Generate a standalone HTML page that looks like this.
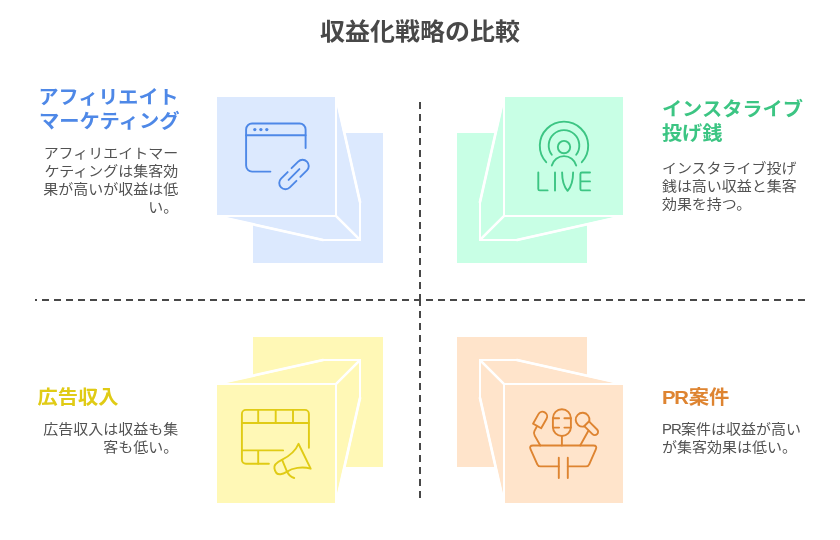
<!DOCTYPE html>
<html lang="ja">
<head>
<meta charset="utf-8">
<title>収益化戦略の比較</title>
<style>
html,body{margin:0;padding:0;background:#ffffff;}
body{width:840px;height:540px;overflow:hidden;}
svg{display:block;will-change:transform;}
text{font-family:"Liberation Sans", "Noto Sans CJK JP", sans-serif;}
</style>
</head>
<body>
<svg width="840" height="540" viewBox="0 0 840 540">
<rect x="0" y="0" width="840" height="540" fill="#ffffff"/>
<g fill="#dce9fe" stroke="#ffffff" stroke-width="2" stroke-linejoin="bevel"><polygon points="252,132 384,132 384,264 252,264"/><polygon points="336,96 360,202 360,240 336,216"/><polygon points="216,216 336,216 360,240 323,240"/><polygon points="216,96 336,96 336,216 216,216"/><path fill="none" stroke-width="2.7" stroke-linecap="round" d="M336,96 L360,202 M216,216 L323,240"/><path fill="none" stroke-width="2.4" stroke-linecap="butt" d="M336,216 L359.2,239.2"/><path fill="none" stroke-linejoin="miter" d="M360,202 L360,240 L323,240"/></g>
<g fill="#c8ffe5" stroke="#ffffff" stroke-width="2" stroke-linejoin="bevel"><polygon points="588,132 456,132 456,264 588,264"/><polygon points="504,96 480,202 480,240 504,216"/><polygon points="624,216 504,216 480,240 517,240"/><polygon points="624,96 504,96 504,216 624,216"/><path fill="none" stroke-width="2.7" stroke-linecap="round" d="M504,96 L480,202 M624,216 L517,240"/><path fill="none" stroke-width="2.4" stroke-linecap="butt" d="M504,216 L480.8,239.2"/><path fill="none" stroke-linejoin="miter" d="M480,202 L480,240 L517,240"/></g>
<g fill="#fff8b6" stroke="#ffffff" stroke-width="2" stroke-linejoin="bevel"><polygon points="252,468 384,468 384,336 252,336"/><polygon points="336,504 360,398 360,360 336,384"/><polygon points="216,384 336,384 360,360 323,360"/><polygon points="216,504 336,504 336,384 216,384"/><path fill="none" stroke-width="2.7" stroke-linecap="round" d="M336,504 L360,398 M216,384 L323,360"/><path fill="none" stroke-width="2.4" stroke-linecap="butt" d="M336,384 L359.2,360.8"/><path fill="none" stroke-linejoin="miter" d="M360,398 L360,360 L323,360"/></g>
<g fill="#ffe4cb" stroke="#ffffff" stroke-width="2" stroke-linejoin="bevel"><polygon points="588,468 456,468 456,336 588,336"/><polygon points="504,504 480,398 480,360 504,384"/><polygon points="624,384 504,384 480,360 517,360"/><polygon points="624,504 504,504 504,384 624,384"/><path fill="none" stroke-width="2.7" stroke-linecap="round" d="M504,504 L480,398 M624,384 L517,360"/><path fill="none" stroke-width="2.4" stroke-linecap="butt" d="M504,384 L480.8,360.8"/><path fill="none" stroke-linejoin="miter" d="M480,398 L480,360 L517,360"/></g>
<g stroke="#484848" stroke-width="2" fill="none" stroke-dasharray="7 5"><path d="M420,301 L420,102"/><path d="M420,299 L420,498"/><path d="M35,300 L805,300" stroke-dashoffset="5"/></g>
<g fill="none" stroke="#4e88e7" stroke-width="1.9" stroke-linecap="round" stroke-linejoin="round">
<path d="M305.6,148 V129.5 a6,6 0 0 0 -6,-6 H252.1 a6,6 0 0 0 -6,6 V165.6 a6,6 0 0 0 6,6 H270.4"/>
<path d="M246.1,135.3 H305.6"/>
<g transform="translate(294,174.5) rotate(-45)">
<path d="M2.75,-6.2 L12.1,-6.2 A6.2,6.2 0 0 1 12.1,6.2 L2.75,6.2"/>
<path d="M-2.75,6.2 L-12.1,6.2 A6.2,6.2 0 0 1 -12.1,-6.2 L-2.75,-6.2"/>
<path d="M-7.6,0 L7.6,0"/>
</g>
</g>
<g fill="#4e88e7"><circle cx="254.8" cy="129.6" r="1.65"/><circle cx="260.9" cy="129.6" r="1.65"/><circle cx="266.8" cy="129.6" r="1.65"/></g>
<g fill="none" stroke="#3cc583" stroke-width="1.9" stroke-linecap="round" stroke-linejoin="round">
<g transform="translate(0,0.4)">
<path d="M546.2,161.8 A24.2,24.2 0 1 1 581.8,161.8"/>
<path d="M551.8,154.3 A15.3,15.3 0 1 1 576.2,154.3"/>
<circle cx="564" cy="146.7" r="6.2"/>
<path d="M551.8,165.2 A12.6,12.6 0 0 1 576.2,165.2"/>
</g>
<path d="M538.3,172.4 V188.9 Q538.3,190.4 539.8,190.4 H547.6"/>
<path d="M555,172.4 V190.5"/>
<path d="M562.1,172.4 C562.1,180 563.5,186 567.6,190.8 C571.7,186 573.1,180 573.1,172.4"/>
<path d="M590,172.5 H581.9 Q580.4,172.5 580.4,174 V188.9 Q580.4,190.4 581.9,190.4 H590 M580.4,181.4 H590"/>
</g>
<g fill="none" stroke="#e0cb15" stroke-width="1.9" stroke-linecap="round" stroke-linejoin="round">
<path d="M308.9,447.7 V413.9 a4,4 0 0 0 -4,-4 H245.9 a4,4 0 0 0 -4,4 V459.7 a4,4 0 0 0 4,4 H268.9"/>
<path d="M241.9,423 H308.9 M241.9,450.4 H283.1 M258.2,410 V423 M275.7,410 V423 M293,410 V423 M258.2,450.4 V463.7"/>
<path d="M298.49,443.78 C295.56,451.33 290.22,455.78 281.33,460.22 C276.89,462.44 273.78,464.67 274.40,468.22 C275.11,472.67 277.78,474.44 280.44,474.27 C283.11,474.00 285.33,472.67 287.11,471.60 C292.00,468.22 301.78,466.00 310.67,468.67 Z"/>
<path d="M282.22,460.22 L287.11,471.78 C288.89,475.33 291.11,477.11 294.22,478.00"/>
</g>
<g fill="none" stroke="#de8431" stroke-width="1.9" stroke-linecap="round" stroke-linejoin="round">
<rect x="552.9" y="409.3" width="18" height="26.7" rx="9" ry="9"/>
<path d="M552.9,418.2 H559.1 M564.4,418.2 H570.9 M552.9,427.6 H559.1 M564.4,427.6 H570.9 M561.9,436 V445.5"/>
<g transform="translate(542.5,416.4) rotate(29.4)"><path d="M-4.65,11 L-4.65,0 A4.65,4.65 0 0 1 4.65,0 L4.65,11 Z"/></g>
<path d="M536.9,426.4 L534.4,431.1 Q533.3,433.3 534.7,435.6 L540.3,445.5"/>
<g transform="translate(582.6,419.7) rotate(45)"><path d="M5.7,-3.9 A6.9,6.9 0 1 0 5.7,3.9 Z"/><path d="M5.7,-3.3 L17.2,-3.3 A3.3,3.3 0 0 1 17.2,3.3 L5.7,3.3"/></g>
<path d="M588.4,430.7 L580.2,445.5"/>
<path d="M558.8,466.4 H540.6 Q538.2,466.4 537.3,464.3 L530.6,449.3 Q528.9,445.5 533,445.5 H593.4 Q597.5,445.5 595.8,449.3 L589.2,464.3 Q588.3,466.4 585.9,466.4 H567.8"/>
<path d="M558.8,457.7 V478 M567.8,457.7 V478"/>
</g>
<g>
<text transform="translate(420,40.42) scale(1.0,0.95)" font-size="25" fill="#484848" font-weight="700" text-anchor="middle">収益化戦略の比較</text>
<text transform="translate(38.4,103.72) scale(1.005,0.95)" font-size="20" fill="#4e88e7" font-weight="700" text-anchor="start">アフィリエイト</text>
<text transform="translate(39.0,127.82) scale(1.016,0.95)" font-size="20" fill="#4e88e7" font-weight="700" text-anchor="start">マーケティング</text>
<text transform="translate(178.2,158.2) scale(1.0,0.93)" font-size="15" fill="#525252" font-weight="400" text-anchor="end">アフィリエイトマー</text>
<text transform="translate(178.2,176.1) scale(1.0,0.93)" font-size="15" fill="#525252" font-weight="400" text-anchor="end">ケティングは集客効</text>
<text transform="translate(178.2,194.0) scale(1.0,0.93)" font-size="15" fill="#525252" font-weight="400" text-anchor="end">果が高いが収益は低</text>
<text transform="translate(178.2,211.9) scale(1.0,0.93)" font-size="15" fill="#525252" font-weight="400" text-anchor="end">い。</text>
<text transform="translate(661.9,116.12) scale(1.012,0.95)" font-size="20" fill="#3cc583" font-weight="700" text-anchor="start">インスタライブ</text>
<text transform="translate(661.9,140.12) scale(1.012,0.95)" font-size="20" fill="#3cc583" font-weight="700" text-anchor="start">投げ銭</text>
<text transform="translate(661.9,172.7) scale(1.0,0.93)" font-size="15" fill="#525252" font-weight="400" text-anchor="start">インスタライブ投げ</text>
<text transform="translate(661.9,190.7) scale(1.0,0.93)" font-size="15" fill="#525252" font-weight="400" text-anchor="start">銭は高い収益と集客</text>
<text transform="translate(661.9,208.7) scale(1.0,0.93)" font-size="15" fill="#525252" font-weight="400" text-anchor="start">効果を持つ。</text>
<text transform="translate(37.6,404.02) scale(1.012,0.95)" font-size="20" fill="#e0cb15" font-weight="700" text-anchor="start">広告収入</text>
<text transform="translate(178.2,434.2) scale(1.0,0.93)" font-size="15" fill="#525252" font-weight="400" text-anchor="end">広告収入は収益も集</text>
<text transform="translate(178.2,452.2) scale(1.0,0.93)" font-size="15" fill="#525252" font-weight="400" text-anchor="end">客も低い。</text>
<text transform="translate(662.0,403.82) scale(1.015,0.95)" font-size="20" fill="#de8431" font-weight="700" text-anchor="start" dx="0 -1.2 -0.2">PR案件</text>
<text transform="translate(662.1,434.1) scale(1.0,0.93)" font-size="15" fill="#525252" font-weight="400" text-anchor="start" dx="0 -1.2 -0.6">PR案件は収益が高い</text>
<text transform="translate(662.1,452.1) scale(1.0,0.93)" font-size="15" fill="#525252" font-weight="400" text-anchor="start">が集客効果は低い。</text>
</g>
</svg>
</body>
</html>
